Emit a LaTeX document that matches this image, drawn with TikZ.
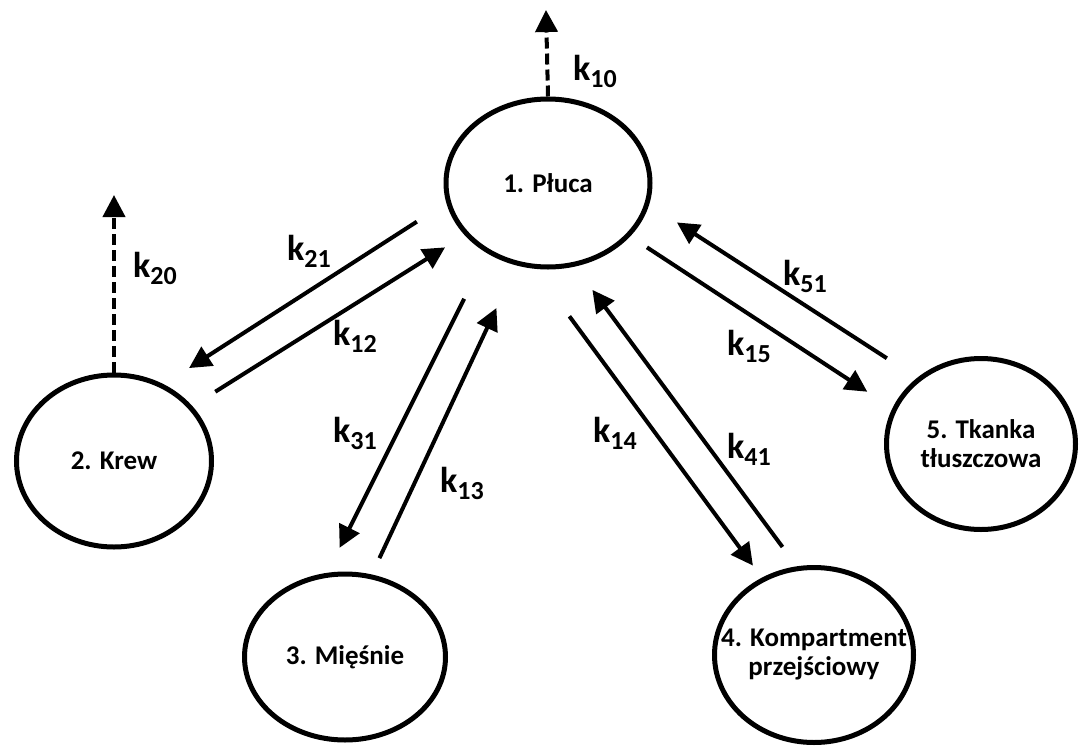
\documentclass[tikz,border=0pt]{standalone}
\usepackage{fontspec}
\setmainfont{Carlito}
\usetikzlibrary{shapes.geometric,arrows.meta}

\newcommand{\krate}[1]{k\raisebox{-7pt}{\fontsize{26}{26}\selectfont #1}}

\begin{document}
\begin{tikzpicture}[x=1pt, y=1pt,
    compartment/.style={ellipse, draw, line width=5pt, inner sep=0pt, align=center,
        font=\bfseries\fontsize{27}{29}\selectfont},
    flow/.style={-{Triangle[length=22pt,width=22pt]}, line width=4pt},
    loss/.style={flow, dash pattern=on 11pt off 5pt},
    rate/.style={anchor=base west, inner sep=0pt, font=\bfseries\fontsize{36}{36}\selectfont}
]
\useasboundingbox (0,0) rectangle (1088,-745);

% compartments
\node [compartment, minimum width=204pt, minimum height=168pt] (Pluca) at (548,-183) {1. Płuca};
\node [compartment, minimum width=195pt, minimum height=172pt] (Krew) at (114,-461) {2. Krew};
\node [compartment, minimum width=201pt, minimum height=166pt] (Miesnie) at (345,-657) {3. Mięśnie};
\node [compartment, minimum width=199pt, minimum height=175pt, inner xsep=-30pt] (Kompartment) at (814,-655) {4. Kompartment\\przejściowy};
\node [compartment, minimum width=189pt, minimum height=171pt] (Tkanka) at (981,-444) {5. Tkanka\\tłuszczowa};

% elimination
\coordinate (k10end) at (546,-10);
\coordinate (k20end) at (114,-195);
\draw [loss] (Pluca.north) -- (k10end);
\draw [loss] (Krew.north) -- (k20end);

% exchange
\draw [flow, shorten <=35pt, shorten >=30pt] (Pluca.191) -- (Krew.57);
\draw [flow, shorten <=27pt, shorten >=23pt] (Krew.35) -- (Pluca.212);
\draw [flow, shorten <=51pt, shorten >=28pt] (Pluca.229) -- (Miesnie.102);
\draw [flow, shorten <=18pt, shorten >=47pt] (Miesnie.72) -- (Pluca.249);
\draw [flow, shorten <=59pt, shorten >=15pt] (Pluca.261) -- (Kompartment.124);
\draw [flow, shorten <=24pt, shorten >=29pt] (Kompartment.101) -- (Pluca.288);
\draw [flow, shorten <=20pt, shorten >=30pt] (Pluca.327) -- (Tkanka.158);
\draw [flow, shorten <=36pt, shorten >=33pt] (Tkanka.134) -- (Pluca.348);

% rate constants
\node [rate] (k10) at (573,-80) {\krate{10}};
\node [rate] (k20) at (133,-277) {\krate{20}};
\node [rate] (k21) at (287,-260) {\krate{21}};
\node [rate] (k12) at (333,-345) {\krate{12}};
\node [rate] (k31) at (333,-442) {\krate{31}};
\node [rate] (k13) at (440,-492) {\krate{13}};
\node [rate] (k14) at (593,-442) {\krate{14}};
\node [rate] (k41) at (727,-458) {\krate{41}};
\node [rate] (k15) at (727,-355) {\krate{15}};
\node [rate] (k51) at (783,-285) {\krate{51}};

\end{tikzpicture}
\end{document}
